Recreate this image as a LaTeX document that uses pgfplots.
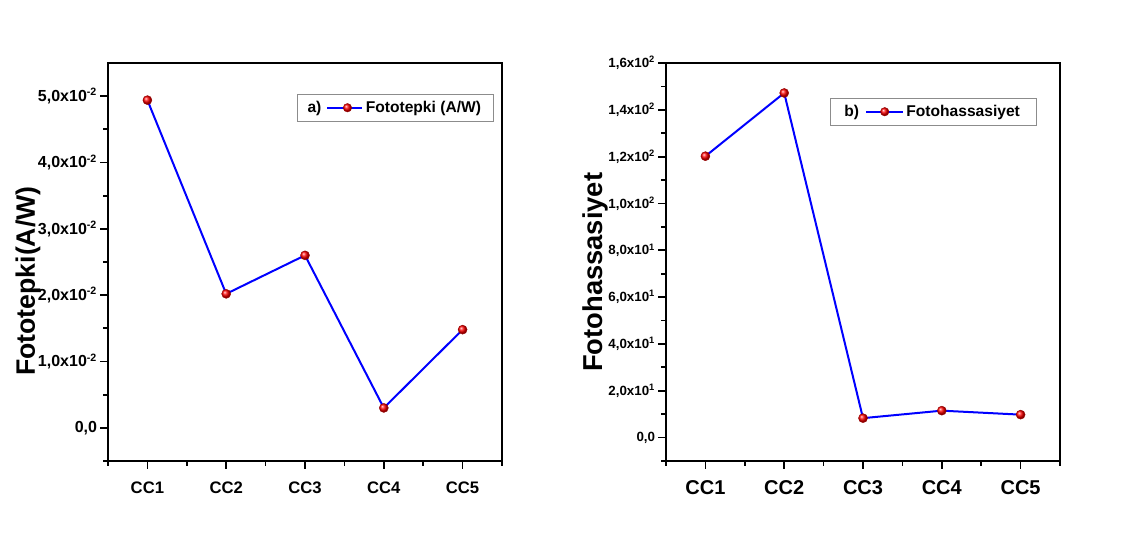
\documentclass[border=0pt]{standalone}
\usepackage{fontspec}
\setmainfont{Liberation Sans}
\usepackage{pgfplots}
\pgfplotsset{compat=1.18}
\usetikzlibrary{plotmarks}

\newcommand{\fs}[1]{\fontsize{#1}{#1}\selectfont\bfseries}

\tikzset{
  ballmark/.style={
    mark=ball, mark size=3.4pt,
    mark options={ball color=red, draw=red!60!black, line width=0.3pt},
  },
}

\pgfplotsset{
  panel/.style={
    scale only axis,
    width=295.5pt, height=298.5pt,
    axis line style={line width=1.8pt},
    tick pos=left, tick align=outside,
    major tick length=6pt, minor tick length=3.5pt,
    every tick/.style={black, line width=1.3pt},
    xmin=0.5, xmax=5.5,
    xtick={1,2,3,4,5},
    xticklabels={CC1,CC2,CC3,CC4,CC5},
    minor xtick={0.5,1.5,2.5,3.5,4.5,5.5},
    scaled y ticks=false,
    yticklabel style={anchor=east, inner sep=0pt, xshift=-2pt},
    xticklabel style={anchor=center},
    legend cell align=left,
    clip=false,
  },
  series/.style={blue, line width=1.5pt, ballmark},
}

\begin{document}
\begin{tikzpicture}
\path[use as bounding box] (0,0) rectangle (850.5pt,411.75pt);

% a) responsivity
\begin{axis}[panel,
  at={(81pt,66pt)}, anchor=south west,
  ymin=-0.005, ymax=0.055,
  ytick={0,0.01,0.02,0.03,0.04,0.05},
  yticklabels={{0,0},{1,0x10\textsuperscript{-2}},{2,0x10\textsuperscript{-2}},{3,0x10\textsuperscript{-2}},{4,0x10\textsuperscript{-2}},{5,0x10\textsuperscript{-2}}},
  minor ytick={-0.005,0.005,0.015,0.025,0.035,0.045},
  yticklabel style={font=\fs{12}},
  xticklabel style={font=\fs{12.5}, yshift=-14pt},
  ylabel={Fototepki(A/W)},
  ylabel style={at={([xshift=-60pt]rel axis cs:0,0.452)}, anchor=center, font=\fs{20}},
  legend style={at={(rel axis cs:0.48,0.922)}, anchor=north west,
    draw=black!45, line width=0.6pt, inner xsep=7.5pt, inner ysep=3pt,
    font=\fs{11.7}},
  legend image code/.code={
    \node[anchor=east, inner sep=0pt, text=black, font=\fs{11.7}] at (-3.8pt,0pt) {a)};
    \draw[blue, line width=1.5pt] (0pt,0pt) -- (26pt,0pt);
    \draw[ballmark, mark size=3.2pt] plot coordinates {(15pt,0pt)};
  },
]
\addplot[series] coordinates {(1,0.0494) (2,0.0202) (3,0.0260) (4,0.0030) (5,0.0148)};
\addlegendentry{Fototepki (A/W)}
\end{axis}

% b) photosensitivity
\begin{axis}[panel,
  at={(499.5pt,66pt)}, anchor=south west,
  ymin=-10, ymax=160,
  ytick={0,20,40,60,80,100,120,140,160},
  yticklabels={{0,0},{2,0x10\textsuperscript{1}},{4,0x10\textsuperscript{1}},{6,0x10\textsuperscript{1}},{8,0x10\textsuperscript{1}},{1,0x10\textsuperscript{2}},{1,2x10\textsuperscript{2}},{1,4x10\textsuperscript{2}},{1,6x10\textsuperscript{2}}},
  minor ytick={-10,10,30,50,70,90,110,130,150},
  yticklabel style={font=\fs{10}},
  xticklabel style={font=\fs{15}, yshift=-14pt},
  ylabel={Fotohassasiyet},
  ylabel style={at={([xshift=-53pt]rel axis cs:0,0.474)}, anchor=center, font=\fs{20.5}},
  legend style={at={(rel axis cs:0.416,0.912)}, anchor=north west,
    draw=black!45, line width=0.6pt, inner xsep=10.5pt, inner ysep=3pt,
    font=\fs{11.7}},
  legend image code/.code={
    \node[anchor=east, inner sep=0pt, text=black, font=\fs{11.7}] at (-4.5pt,0pt) {b)};
    \draw[blue, line width=1.5pt] (0pt,0pt) -- (27.5pt,0pt);
    \draw[ballmark, mark size=3.2pt] plot coordinates {(14pt,0pt)};
  },
]
\addplot[series] coordinates {(1,120.2) (2,147.2) (3,8.3) (4,11.5) (5,9.8)};
\addlegendentry{Fotohassasiyet}
\end{axis}
\end{tikzpicture}
\end{document}
